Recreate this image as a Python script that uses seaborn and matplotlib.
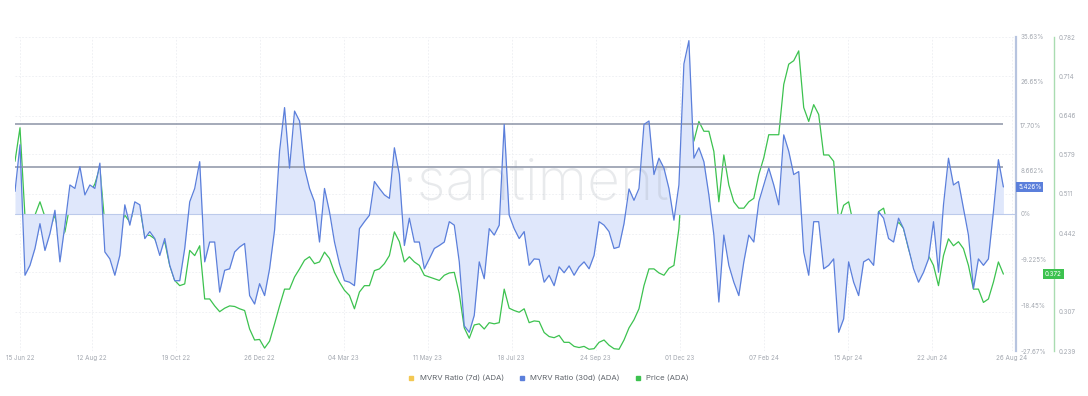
import pandas as pd
import seaborn as sns
import matplotlib.pyplot as plt
import matplotlib.transforms as mtransforms
from matplotlib.lines import Line2D

# MVRV Ratio (30d) in % at ~4 day steps
mvrv_30d = [
    4.5, 13.9, -12.4, -10.4, -7.0, -2.0, -7.4, -4.0, 0.7, -9.7, -2.3, 5.8, 5.1, 9.5, 3.8, 5.8, 5.1, 10.2,
    -7.7, -9.1, -12.4, -8.4, 1.8, -2.3, 2.4, 1.8, -5.0, -3.6, -5.0, -8.4, -5.0, -10.4, -13.5, -13.5, -7.0,
    2.4, 5.1, 10.5, -9.7, -5.7, -5.7, -15.8, -11.4, -11.1, -7.7, -6.7, -6.0, -16.5, -18.2, -14.1, -16.5,
    -11.1, -3.3, 12.6, 21.4, 9.2, 20.7, 18.7, 9.2, 5.1, 2.4, -5.7, 5.1, 0.4, -5.7, -10.1, -13.5, -13.8, -14.5,
    -3.0, -1.6, -0.3, 6.5, 5.1, 3.8, 3.1, 13.3, 7.9, -6.4, -0.9, -5.7, -5.7, -11.1, -9.1, -7.0, -6.4, -5.7,
    -1.6, -2.3, -9.7, -22.6, -23.9, -20.5, -9.7, -13.1, -3.0, -4.3, -2.3, 18.0, -0.3, -3.0, -5.0, -3.6,
    -10.4, -9.1, -9.2, -13.8, -12.4, -14.5, -10.7, -11.9, -10.5, -12.4, -10.7, -9.7, -11.1, -8.4, -1.6,
    -2.3, -3.6, -7.0, -6.7, -2.0, 5.0, 2.7, 5.1, 18.0, 18.7, 7.9, 11.2, 9.2, 5.1, -1.3, 5.8, 30.2, 34.9, 11.2,
    13.3, 10.5, 3.8, -4.3, -17.8, -4.3, -10.4, -13.8, -16.5, -9.7, -4.3, -5.7, 2.4, 5.8, 9.2, 5.8, 1.8,
    15.9, 12.6, 7.9, 8.5, -7.7, -12.4, -1.6, -1.6, -11.1, -10.4, -9.1, -23.9, -21.2, -9.7, -13.8, -16.5, -9.7,
    -9.1, -10.4, 0.4, -0.9, -5.0, -5.7, -0.9, -3.0, -7.0, -11.1, -13.8, -11.8, -9.1, -1.6, -11.8, 1.8,
    11.2, 5.8, 6.5, 1.1, -4.3, -15.1, -9.1, -10.4, -9.1, 0.4, 10.9, 5.4,
]

# ADA price in USD
price = [
    0.567, 0.625, 0.471, 0.465, 0.474, 0.497, 0.471, 0.451, 0.474, 0.433, 0.445, 0.491, 0.497, 0.526,
    0.506, 0.512, 0.528, 0.556, 0.457, 0.460, 0.433, 0.454, 0.474, 0.462, 0.486, 0.486, 0.439, 0.439,
    0.433, 0.416, 0.428, 0.387, 0.361, 0.352, 0.355,
    0.413, 0.404, 0.421, 0.329, 0.329, 0.317, 0.307, 0.313, 0.317, 0.316, 0.312, 0.309, 0.277, 0.258,
    0.259, 0.244, 0.256, 0.286, 0.317, 0.346, 0.346, 0.367, 0.381, 0.396, 0.402, 0.390, 0.393, 0.410,
    0.399, 0.375, 0.358, 0.344, 0.335, 0.312,
    0.341, 0.352, 0.352, 0.378, 0.381, 0.390, 0.404, 0.445, 0.428, 0.393, 0.402, 0.393, 0.387, 0.370,
    0.367, 0.364, 0.361, 0.370, 0.374, 0.375, 0.338, 0.279, 0.261, 0.284, 0.286, 0.277, 0.288, 0.286,
    0.288, 0.346, 0.313, 0.309, 0.306, 0.312,
    0.288, 0.291, 0.290, 0.271, 0.264, 0.262, 0.266, 0.254, 0.254, 0.247, 0.245, 0.247, 0.242, 0.243,
    0.254, 0.258, 0.249, 0.243, 0.242, 0.258, 0.279, 0.293, 0.312, 0.352, 0.381, 0.381, 0.374, 0.370,
    0.382, 0.387, 0.451, 0.584, 0.660, 0.602,
    0.636, 0.619, 0.619, 0.584, 0.497, 0.578, 0.526, 0.497, 0.486, 0.486, 0.497, 0.503, 0.544, 0.573,
    0.613, 0.613, 0.613, 0.700, 0.735, 0.741, 0.758, 0.660, 0.636, 0.665, 0.648, 0.578, 0.578, 0.567,
    0.462, 0.491, 0.497, 0.457, 0.451, 0.451,
    0.451, 0.428, 0.480, 0.486, 0.451, 0.445, 0.462, 0.451, 0.416, 0.387, 0.375, 0.381, 0.404, 0.387,
    0.352, 0.404, 0.433, 0.421, 0.428, 0.416, 0.387, 0.346, 0.346, 0.323, 0.329, 0.358, 0.393, 0.372,
]

start_date = "2022-06-11"
end_date = "2024-08-19"
axis_end = "2024-08-29 05:00"

tick_dates = ["2022-06-15", "2022-08-12", "2022-10-19", "2022-12-26", "2023-03-04", "2023-05-11",
              "2023-07-18", "2023-09-24", "2023-12-01", "2024-02-07", "2024-04-15", "2024-06-22",
              "2024-08-26"]
tick_labels = ["15 Jun 22", "12 Aug 22", "19 Oct 22", "26 Dec 22", "04 Mar 23", "11 May 23",
               "18 Jul 23", "24 Sep 23", "01 Dec 23", "07 Feb 24", "15 Apr 24", "22 Jun 24",
               "26 Aug 24"]

mvrv_ticks = [35.63, 26.65, 17.70, 8.662, 0, -9.225, -18.45, -27.67]
mvrv_tick_labels = ["35.63%", "26.65%", "17.70%", "8.662%", "0%", "-9.225%", "-18.45%", "-27.67%"]
price_ticks = [0.782, 0.714, 0.646, 0.579, 0.511, 0.442, 0.375, 0.307, 0.239]
price_tick_labels = ["0.782", "0.714", "0.646", "0.579", "0.511", "0.442", "", "0.307", "0.239"]

ref_levels = [18.1, 9.4]
last_mvrv_label = "5.426%"
last_price_label = "0.372"

BLUE = "#5b7fdb"
GREEN = "#3cc24f"
YELLOW = "#f3c853"
TICK_COLOR = "#a3a8b0"

dates = pd.date_range(start_date, end_date, periods=len(mvrv_30d))
df = pd.DataFrame({"date": dates, "mvrv": mvrv_30d, "price": price})

sns.set_theme(style="white")
plt.rcParams["font.family"] = ["Inter", "DejaVu Sans"]

fig = plt.figure(figsize=(10.88, 3.96), dpi=100)
ax = fig.add_axes([15 / 1088, 1 - 351 / 396, (1016 - 15) / 1088, 314 / 396])
ax2 = ax.twinx()

# price on the base axes (drawn under MVRV)
sns.lineplot(data=df, x="date", y="price", ax=ax, color=GREEN, linewidth=0.9)
ax.set_ylim(0.239, 0.782)
ax.set_xlim(pd.Timestamp(start_date), pd.Timestamp(axis_end))
ax.yaxis.tick_right()
ax.yaxis.set_label_position("right")
ax.set_yticks(price_ticks)
ax.set_yticklabels(price_tick_labels)
ax.set_xticks(pd.to_datetime(tick_dates))
ax.set_xticklabels(tick_labels)
ax.tick_params(axis="x", length=0, pad=3, labelsize=4.5, labelcolor=TICK_COLOR)
ax.tick_params(axis="y", length=0, pad=4, labelsize=4.5, labelcolor=TICK_COLOR)
ax.grid(True, color="#eceef2", linestyle=(0, (2, 2)), linewidth=0.6)
ax.set_xlabel("")
ax.set_ylabel("")
for s in ["top", "left", "bottom"]:
    ax.spines[s].set_visible(False)
ax.spines["right"].set_position(("outward", 27))
ax.spines["right"].set_color("#a9dcb1")
ax.spines["right"].set_linewidth(1.0)

# MVRV 30d on the twin axes
ax2.fill_between(df["date"], df["mvrv"], 0, color="#dfe7fb", linewidth=0, zorder=1)
ax2.axhline(0, color="#bccaeb", linewidth=0.8, zorder=1)
ax2.text(0.52, 0.53, "\u00b7santiment", transform=ax2.transAxes, ha="center", va="center",
         fontsize=41, color="#9aa0aa", alpha=0.22, fontweight="light", zorder=1.5)
ax2.hlines(ref_levels, dates[0], dates[-1], color="#8b93a6", linewidth=1.1, zorder=2)
sns.lineplot(data=df, x="date", y="mvrv", ax=ax2, color=BLUE, linewidth=0.9, zorder=3)
ax2.set_ylim(-27.67, 35.63)
ax2.set_yticks(mvrv_ticks)
ax2.set_yticklabels(mvrv_tick_labels)
ax2.tick_params(axis="y", length=0, pad=3, labelsize=4.5, labelcolor=TICK_COLOR)
ax2.set_ylabel("")
ax2.grid(False)
for s in ["top", "left", "bottom"]:
    ax2.spines[s].set_visible(False)
ax2.spines["right"].set_color("#b7c4df")
ax2.spines["right"].set_linewidth(1.6)

# current value tags
tr2 = mtransforms.blended_transform_factory(ax2.transAxes, ax2.transData)
ax2.text(1.002, mvrv_30d[-1], last_mvrv_label, transform=tr2, ha="left", va="center",
         fontsize=4.5, color="white",
         bbox=dict(boxstyle="square,pad=0.25", fc=BLUE, ec="none"), zorder=5, clip_on=False)
tr1 = mtransforms.blended_transform_factory(ax.transAxes, ax.transData)
ax.text(1.029, price[-1], last_price_label, transform=tr1, ha="left", va="center",
        fontsize=4.5, color="white",
        bbox=dict(boxstyle="square,pad=0.3", fc=GREEN, ec="none"), zorder=5, clip_on=False)

handles = [
    Line2D([], [], marker="s", linestyle="none", markersize=3.5, color=YELLOW),
    Line2D([], [], marker="s", linestyle="none", markersize=3.5, color=BLUE),
    Line2D([], [], marker="s", linestyle="none", markersize=3.5, color=GREEN),
]
fig.legend(handles, ["MVRV Ratio (7d) (ADA)", "MVRV Ratio (30d) (ADA)", "Price (ADA)"],
           loc="center", bbox_to_anchor=(0.502, 0.045), ncol=3, frameon=False,
           fontsize=5.6, labelcolor="#5f646b", handletextpad=0.1, columnspacing=1.3)

fig.savefig("out.png", dpi=100, facecolor="white")
